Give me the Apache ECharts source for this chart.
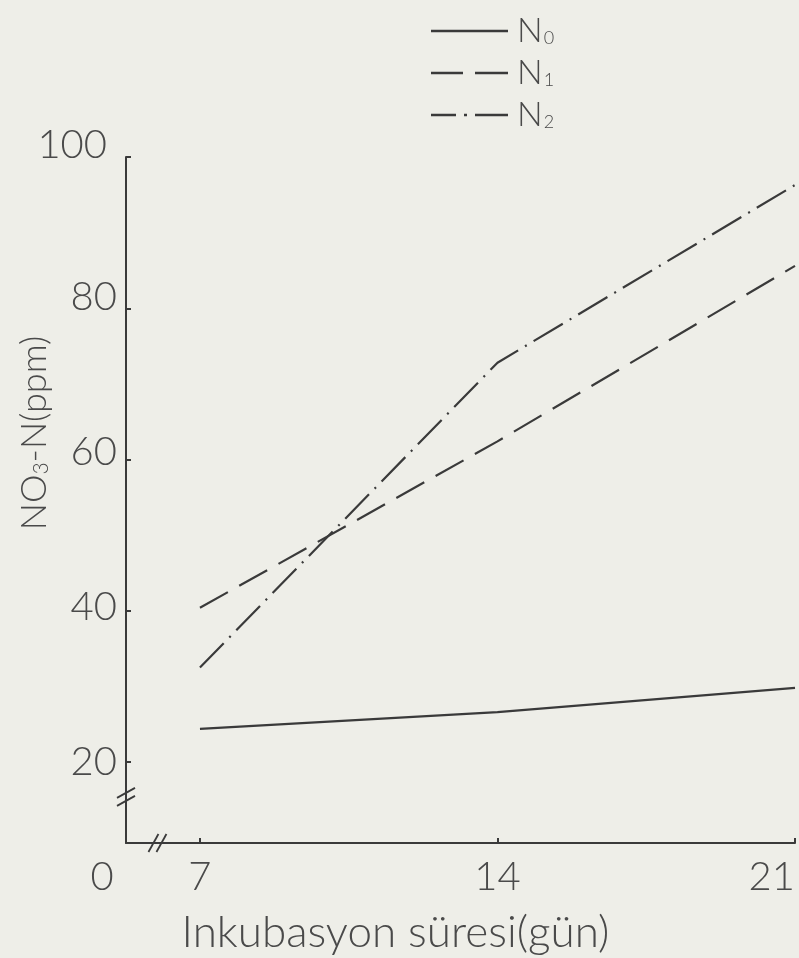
<!DOCTYPE html>
<html>
<head>
<meta charset="utf-8">
<script src="https://cdn.jsdelivr.net/npm/echarts@6/dist/echarts.min.js"></script>
<style>
html,body{margin:0;padding:0;background:#eeeee8;}
#main{width:799px;height:958px;}
</style>
</head>
<body>
<div id="main"></div>
<script>
const days = [7, 14, 21];
const n0 = [24.4, 26.6, 29.8];
const n1 = [40.4, 62.4, 85.6];
const n2 = [32.5, 72.8, 96.3];
const xTicks = [7, 14, 21];
const yTicks = [20, 40, 60, 80, 100];
const seriesNames = ['N0', 'N1', 'N2'];
const subscripts = ['0', '1', '2'];
const xName = 'Inkubasyon süresi(gün)';
const originLabel = '0';

const FONT = 'Lato';
const INK = '#3a3a3a';
const TXT = '#4a4a4a';
const xMin = 5.26, xMax = 21, yMin = 9.3, yMax = 100;

function pairs(vals) { return days.map((d, i) => [d, vals[i]]); }

const chart = echarts.init(document.getElementById('main'), null, {renderer: 'canvas'});
const lineStyles = [
  {type: 'solid'},
  {type: [32, 13]},
  {type: [34, 8, 2, 8]}
];
const legendIcons = [
  'path://M0,0H77V2.4H0Z',
  'path://M0,0H32V2.4H0Z M44,0H77V2.4H44Z',
  'path://M0,0H25V2.4H0Z M33,0H36V2.4H33Z M44,0H77V2.4H44Z'
];
const seriesVals = [n0, n1, n2];

// per-label vertical / horizontal nudges of the y tick labels (as in the drawing)
const yLabelRich = {};
const yNudge = {20: [0, 0], 40: [8, 0], 60: [14, 0], 80: [22, 0], 100: [24, 10]};
yTicks.forEach(v => {
  yLabelRich['r' + v] = {fontFamily: FONT, fontWeight: 300, fontSize: 40, lineHeight: 40, color: TXT,
    padding: [0, yNudge[v][1], yNudge[v][0], 0]};
});

chart.setOption({
  backgroundColor: '#eeeee8',
  animation: false,
  textStyle: {fontFamily: FONT},
  grid: {left: 126, right: 4, top: 157, bottom: 115, outerBoundsMode: 'none'},
  legend: {
    left: 426, top: 9, orient: 'vertical',
    itemWidth: 77, itemHeight: 2.4, itemGap: 8,
    data: seriesNames.map((nm, i) => ({name: nm, icon: legendIcons[i]})),
    itemStyle: {color: INK, borderWidth: 0},
    formatter: function (name) {
      const i = seriesNames.indexOf(name);
      return '{n|N}{s|' + subscripts[i] + '}';
    },
    textStyle: {
      color: TXT, lineHeight: 32, padding: [0, 0, 0, 4],
      rich: {
        n: {fontFamily: FONT, fontWeight: 300, fontSize: 34, color: TXT, lineHeight: 32},
        s: {fontFamily: FONT, fontWeight: 300, fontSize: 18, color: TXT, verticalAlign: 'bottom', lineHeight: 32, padding: [12, 0, 0, 1]}
      }
    }
  },
  xAxis: {
    type: 'value', min: xMin, max: xMax,
    name: xName, nameLocation: 'middle', nameGap: 68,
    nameTextStyle: {fontFamily: FONT, fontWeight: 300, fontSize: 44, color: TXT, padding: [0, 130, 0, 0]},
    splitLine: {show: false},
    axisLine: {show: true, lineStyle: {color: INK, width: 2}},
    axisTick: {show: true, inside: true, length: 5, customValues: xTicks, lineStyle: {color: INK, width: 2}},
    axisLabel: {customValues: xTicks, margin: 14, alignMaxLabel: 'right',
      fontFamily: FONT, fontWeight: 300, fontSize: 40, lineHeight: 40, color: TXT}
  },
  yAxis: {
    type: 'value', min: yMin, max: yMax,
    name: 'NO{sub|3}-N(ppm)', nameLocation: 'middle', nameGap: 74, nameMoveOverlap: false,
    nameTextStyle: {fontFamily: FONT, fontWeight: 300, fontSize: 36, color: TXT, padding: [0, 0, 0, 134],
      rich: {sub: {fontFamily: FONT, fontWeight: 300, fontSize: 21, color: TXT, padding: [14, 0, 0, 0]}}},
    splitLine: {show: false},
    axisLine: {show: true, lineStyle: {color: INK, width: 2}},
    axisTick: {show: true, inside: true, length: 5, customValues: yTicks, lineStyle: {color: INK, width: 2}},
    axisLabel: {customValues: yTicks, margin: 9,
      formatter: function (v) { return '{r' + v + '|' + v + '}'; },
      rich: yLabelRich,
      fontFamily: FONT, fontWeight: 300, fontSize: 40, lineHeight: 40, color: TXT}
  },
  series: seriesNames.map((nm, i) => ({
    name: nm, type: 'line', symbol: 'none',
    data: pairs(seriesVals[i]),
    lineStyle: Object.assign({color: INK, width: 2.2}, lineStyles[i]),
    itemStyle: {color: INK}
  }))
});

// axis break marks and origin label (decorations placed from axis scale)
const yBreak = chart.convertToPixel({gridIndex: 0}, [xMin, 15.4]);
const xBreak = chart.convertToPixel({gridIndex: 0}, [6.0, yMin]);
const origin = chart.convertToPixel({gridIndex: 0}, [xMin, yMin]);
function slash(cx, cy, dx, dy) {
  return {type: 'line', shape: {x1: cx - dx, y1: cy + dy, x2: cx + dx, y2: cy - dy},
    style: {stroke: INK, lineWidth: 1.8}, silent: true};
}
chart.setOption({
  graphic: [
    slash(yBreak[0], yBreak[1] - 4, 9, 5),
    slash(yBreak[0], yBreak[1] + 4, 9, 5),
    slash(xBreak[0] - 4, xBreak[1], 5, 9),
    slash(xBreak[0] + 4, xBreak[1], 5, 9),
    {type: 'text', x: origin[0] - 24, y: origin[1] + 34, silent: true,
      style: {text: originLabel, font: '300 40px Lato', fill: TXT, align: 'center', verticalAlign: 'middle'}}
  ]
});
</script>
</body>
</html>
